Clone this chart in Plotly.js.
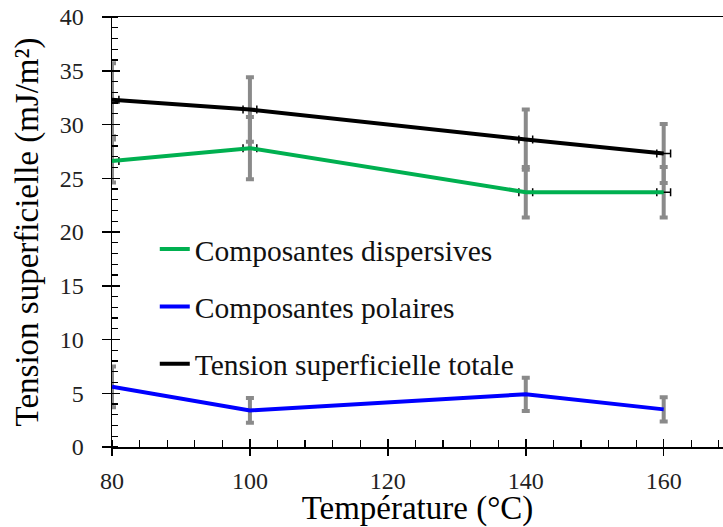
<!DOCTYPE html>
<html>
<head>
<meta charset="utf-8">
<script src="https://cdn.plot.ly/plotly-3.0.1.min.js"></script>
<style>html,body{margin:0;padding:0;background:#fff;}#chart{width:723px;height:527px;}</style>
</head>
<body>
<div id="chart"></div>
<script>
// Data
const temperatures = [80, 100, 140, 160];
const dispersive = [26.6, 27.8, 23.7, 23.7];
const dispersiveErr = [2.0, 2.9, 2.35, 2.35];
const polar = [5.6, 3.4, 4.9, 3.5];
const polarErr = [1.9, 1.15, 1.55, 1.13];
const total = [32.3, 31.4, 28.6, 27.3];
const totalErr = [3.4, 3.0, 2.8, 2.75];
const tempErr = [1, 1, 1, 1];
const seriesNames = ['Composantes dispersives', 'Composantes polaires', 'Tension superficielle totale'];

const FONT = 'Liberation Serif';
const GRAY = '#8a8a8a';
const CLEAR = 'rgba(0,0,0,0)';

const traces = [
  {
    x: temperatures, y: dispersive, name: seriesNames[0], type: 'scatter', mode: 'lines',
    legendgroup: 'g1',
    line: {color: '#00b050', width: 4},
    error_y: {type: 'data', array: dispersiveErr, visible: true, color: GRAY, thickness: 4, width: 4},
    error_x: {type: 'data', array: tempErr, visible: true, color: '#000', thickness: 1.5, width: 4}
  },
  {
    x: temperatures, y: polar, name: seriesNames[1], type: 'scatter', mode: 'lines',
    legendgroup: 'g2',
    line: {color: '#0000ff', width: 4},
    error_y: {type: 'data', array: polarErr, visible: true, color: GRAY, thickness: 4, width: 4}
  },
  {
    x: temperatures, y: total, name: seriesNames[2], type: 'scatter', mode: 'lines',
    legendgroup: 'g3',
    line: {color: '#000000', width: 4},
    error_y: {type: 'data', array: totalErr, visible: true, color: GRAY, thickness: 4, width: 4},
    error_x: {type: 'data', array: tempErr, visible: true, color: '#000', thickness: 1.5, width: 4}
  },
  // empty carriers so the overlay tick axes get drawn
  {x: [], y: [], xaxis: 'x2', yaxis: 'y2', type: 'scatter', mode: 'lines', showlegend: false, hoverinfo: 'skip'},
  {x: [], y: [], xaxis: 'x3', yaxis: 'y3', type: 'scatter', mode: 'lines', showlegend: false, hoverinfo: 'skip'}
];

const xr = [80, 168.6];
const yr = [0, 40];

function overlayAxis(range, tick0, dtick, dir, len, anchor, overlay, side) {
  return {
    range: range, autorange: false, overlaying: overlay, anchor: anchor,
    showline: false, showgrid: false, zeroline: false,
    tickmode: 'linear', tick0: tick0, dtick: dtick,
    ticks: dir, ticklen: len, tickwidth: 1.5, tickcolor: '#000',
    showticklabels: false, side: side
  };
}

const layout = {
  width: 723, height: 527,
  margin: {l: 112, r: 0, t: 17, b: 80},
  paper_bgcolor: '#fff', plot_bgcolor: '#fff',
  font: {family: FONT, color: '#111', size: 24},
  showlegend: true,
  legend: {
    x: 0.07, y: 0.52, xanchor: 'left', yanchor: 'top',
    font: {family: FONT, size: 29.5, color: '#111'},
    bgcolor: CLEAR, borderwidth: 0,
    tracegroupgap: 16, traceorder: 'grouped'
  },
  xaxis: {
    range: xr, autorange: false,
    showline: true, linecolor: '#000', linewidth: 1.5, mirror: true,
    showgrid: false, zeroline: false,
    tickmode: 'linear', tick0: 80, dtick: 20,
    ticks: 'outside', ticklen: 12, tickwidth: 1, tickcolor: CLEAR,
    minor: {ticks: 'inside', dtick: 4, tick0: 80, ticklen: 7, tickwidth: 1.2, tickcolor: '#000', showgrid: false},
    tickfont: {family: FONT, size: 24, color: '#222'},
    title: {text: 'Température (°C)', font: {family: FONT, size: 33, color: '#000'}, standoff: 8}
  },
  yaxis: {
    range: yr, autorange: false,
    showline: true, linecolor: '#000', linewidth: 1.5,
    showgrid: false, zeroline: false,
    tickmode: 'linear', tick0: 0, dtick: 5,
    ticks: 'outside', ticklen: 22, tickwidth: 1, tickcolor: CLEAR,
    minor: {ticks: 'inside', dtick: 1, tick0: 0, ticklen: 6, tickwidth: 1.2, tickcolor: '#000', showgrid: false},
    tickfont: {family: FONT, size: 24, color: '#222'},
    title: {text: 'Tension superficielle (mJ/m²)', font: {family: FONT, size: 33, color: '#000'}, standoff: 11}
  },
  xaxis2: overlayAxis(xr, 80, 20, 'inside', 8, 'y2', 'x', 'bottom'),
  yaxis2: overlayAxis(yr, 0, 5, 'inside', 8, 'x2', 'y', 'left'),
  xaxis3: overlayAxis(xr, 80, 20, 'outside', 8, 'y3', 'x', 'bottom'),
  yaxis3: overlayAxis(yr, 0, 5, 'outside', 9, 'x3', 'y', 'left')
};

Plotly.newPlot('chart', traces, layout, {staticPlot: true, displayModeBar: false});
</script>
</body>
</html>
